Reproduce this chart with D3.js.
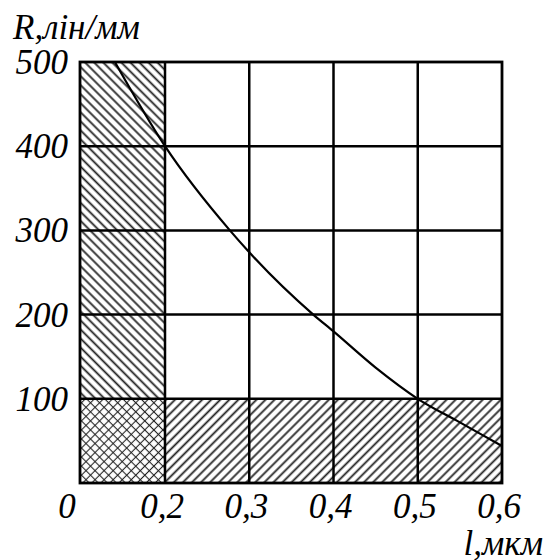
<!DOCTYPE html>
<html>
<head>
<meta charset="utf-8">
<script src="https://cdn.jsdelivr.net/npm/d3@7"></script>
<style>
  body { margin: 0; background: #fff; }
</style>
</head>
<body>
<div id="chart"></div>
<script>
const width = 549;
const height = 560;

// data
const lValues = [0.082, 0.2, 0.277, 0.3, 0.376, 0.4, 0.45, 0.5, 0.55, 0.6];
const rValues = [500, 400, 300, 274, 200, 180, 137, 100, 72, 44];
const xTicks = [0, 0.2, 0.3, 0.4, 0.5, 0.6];
const yTicks = [100, 200, 300, 400, 500];
const xGrid = [0.2, 0.3, 0.4, 0.5];
const yGrid = [100, 200, 300, 400];
// shaded zones: [l0, l1, R0, R1, pattern]
const zones = [
  [0, 0.2, 100, 500, "back"],
  [0.2, 0.6, 0, 100, "fwd"],
  [0, 0.2, 0, 100, "cross"]
];

const fmt = d3.formatLocale({decimal: ",", thousands: " ", grouping: [3], currency: ["", ""]}).format("");
const serif = "'Liberation Serif', 'DejaVu Serif', serif";

// first column is squeezed: 0..0.2 takes one cell
const x = d3.scaleLinear().domain([0, 0.2, 0.6]).range([80, 165, 502]);
const y = d3.scaleLinear().domain([0, 500]).range([483, 62]);

const svg = d3.select("#chart").append("svg")
  .attr("width", width)
  .attr("height", height);

const defs = svg.append("defs");
function stripes(id, angle, w) {
  const p = defs.append("pattern")
    .attr("id", id)
    .attr("patternUnits", "userSpaceOnUse")
    .attr("width", 6.4).attr("height", 6.4)
    .attr("patternTransform", "rotate(" + angle + ")");
  p.append("line")
    .attr("x1", 3.2).attr("y1", -1).attr("x2", 3.2).attr("y2", 8)
    .attr("stroke", "#222").attr("stroke-width", w);
}
stripes("back", -45, 1.8);
stripes("fwd", 45, 1.8);
stripes("crossA", -45, 1.1);
stripes("crossB", 45, 1.1);

zones.forEach(z => {
  const ids = z[4] === "cross" ? ["crossA", "crossB"] : [z[4]];
  ids.forEach(id => {
    svg.append("rect")
      .attr("x", x(z[0]))
      .attr("y", y(z[3]))
      .attr("width", x(z[1]) - x(z[0]))
      .attr("height", y(z[2]) - y(z[3]))
      .attr("fill", "url(#" + id + ")");
  });
});

// grid
svg.selectAll(".vgrid").data(xGrid).enter().append("line")
  .attr("x1", d => x(d)).attr("x2", d => x(d))
  .attr("y1", y(0)).attr("y2", y(500))
  .attr("stroke", "#000").attr("stroke-width", 2.5);
svg.selectAll(".hgrid").data(yGrid).enter().append("line")
  .attr("x1", x(0)).attr("x2", x(0.6))
  .attr("y1", d => y(d)).attr("y2", d => y(d))
  .attr("stroke", "#000").attr("stroke-width", 2.5);
svg.append("rect")
  .attr("x", x(0)).attr("y", y(500))
  .attr("width", x(0.6) - x(0)).attr("height", y(0) - y(500))
  .attr("fill", "none").attr("stroke", "#000").attr("stroke-width", 2.8);

// curve
const line = d3.line()
  .x((d, i) => x(lValues[i]))
  .y(d => y(d))
  .curve(d3.curveMonotoneX);
svg.append("path")
  .datum(rValues)
  .attr("d", line)
  .attr("fill", "none")
  .attr("stroke", "#000")
  .attr("stroke-width", 2.2);

// labels
function label(sel) {
  return sel.style("font-family", serif)
    .style("font-style", "italic")
    .attr("fill", "#000");
}
svg.selectAll(".ylab").data(yTicks).enter().append("text")
  .attr("x", 68).attr("y", d => y(d) + 12)
  .attr("text-anchor", "end")
  .attr("font-size", 35)
  .call(label)
  .text(d => d);
svg.selectAll(".xlab").data(xTicks).enter().append("text")
  .attr("x", d => d === 0 ? x(d) - 13 : x(d) - 3)
  .attr("y", 518)
  .attr("text-anchor", "middle")
  .attr("font-size", 35)
  .call(label)
  .text(d => fmt(d));

svg.append("text").attr("x", 13).attr("y", 39)
  .attr("font-size", 35).call(label).text("R,лін/мм");
svg.append("text").attr("x", 543).attr("y", 555)
  .attr("text-anchor", "end")
  .attr("font-size", 35).call(label).text("l,мкм");
</script>
</body>
</html>
